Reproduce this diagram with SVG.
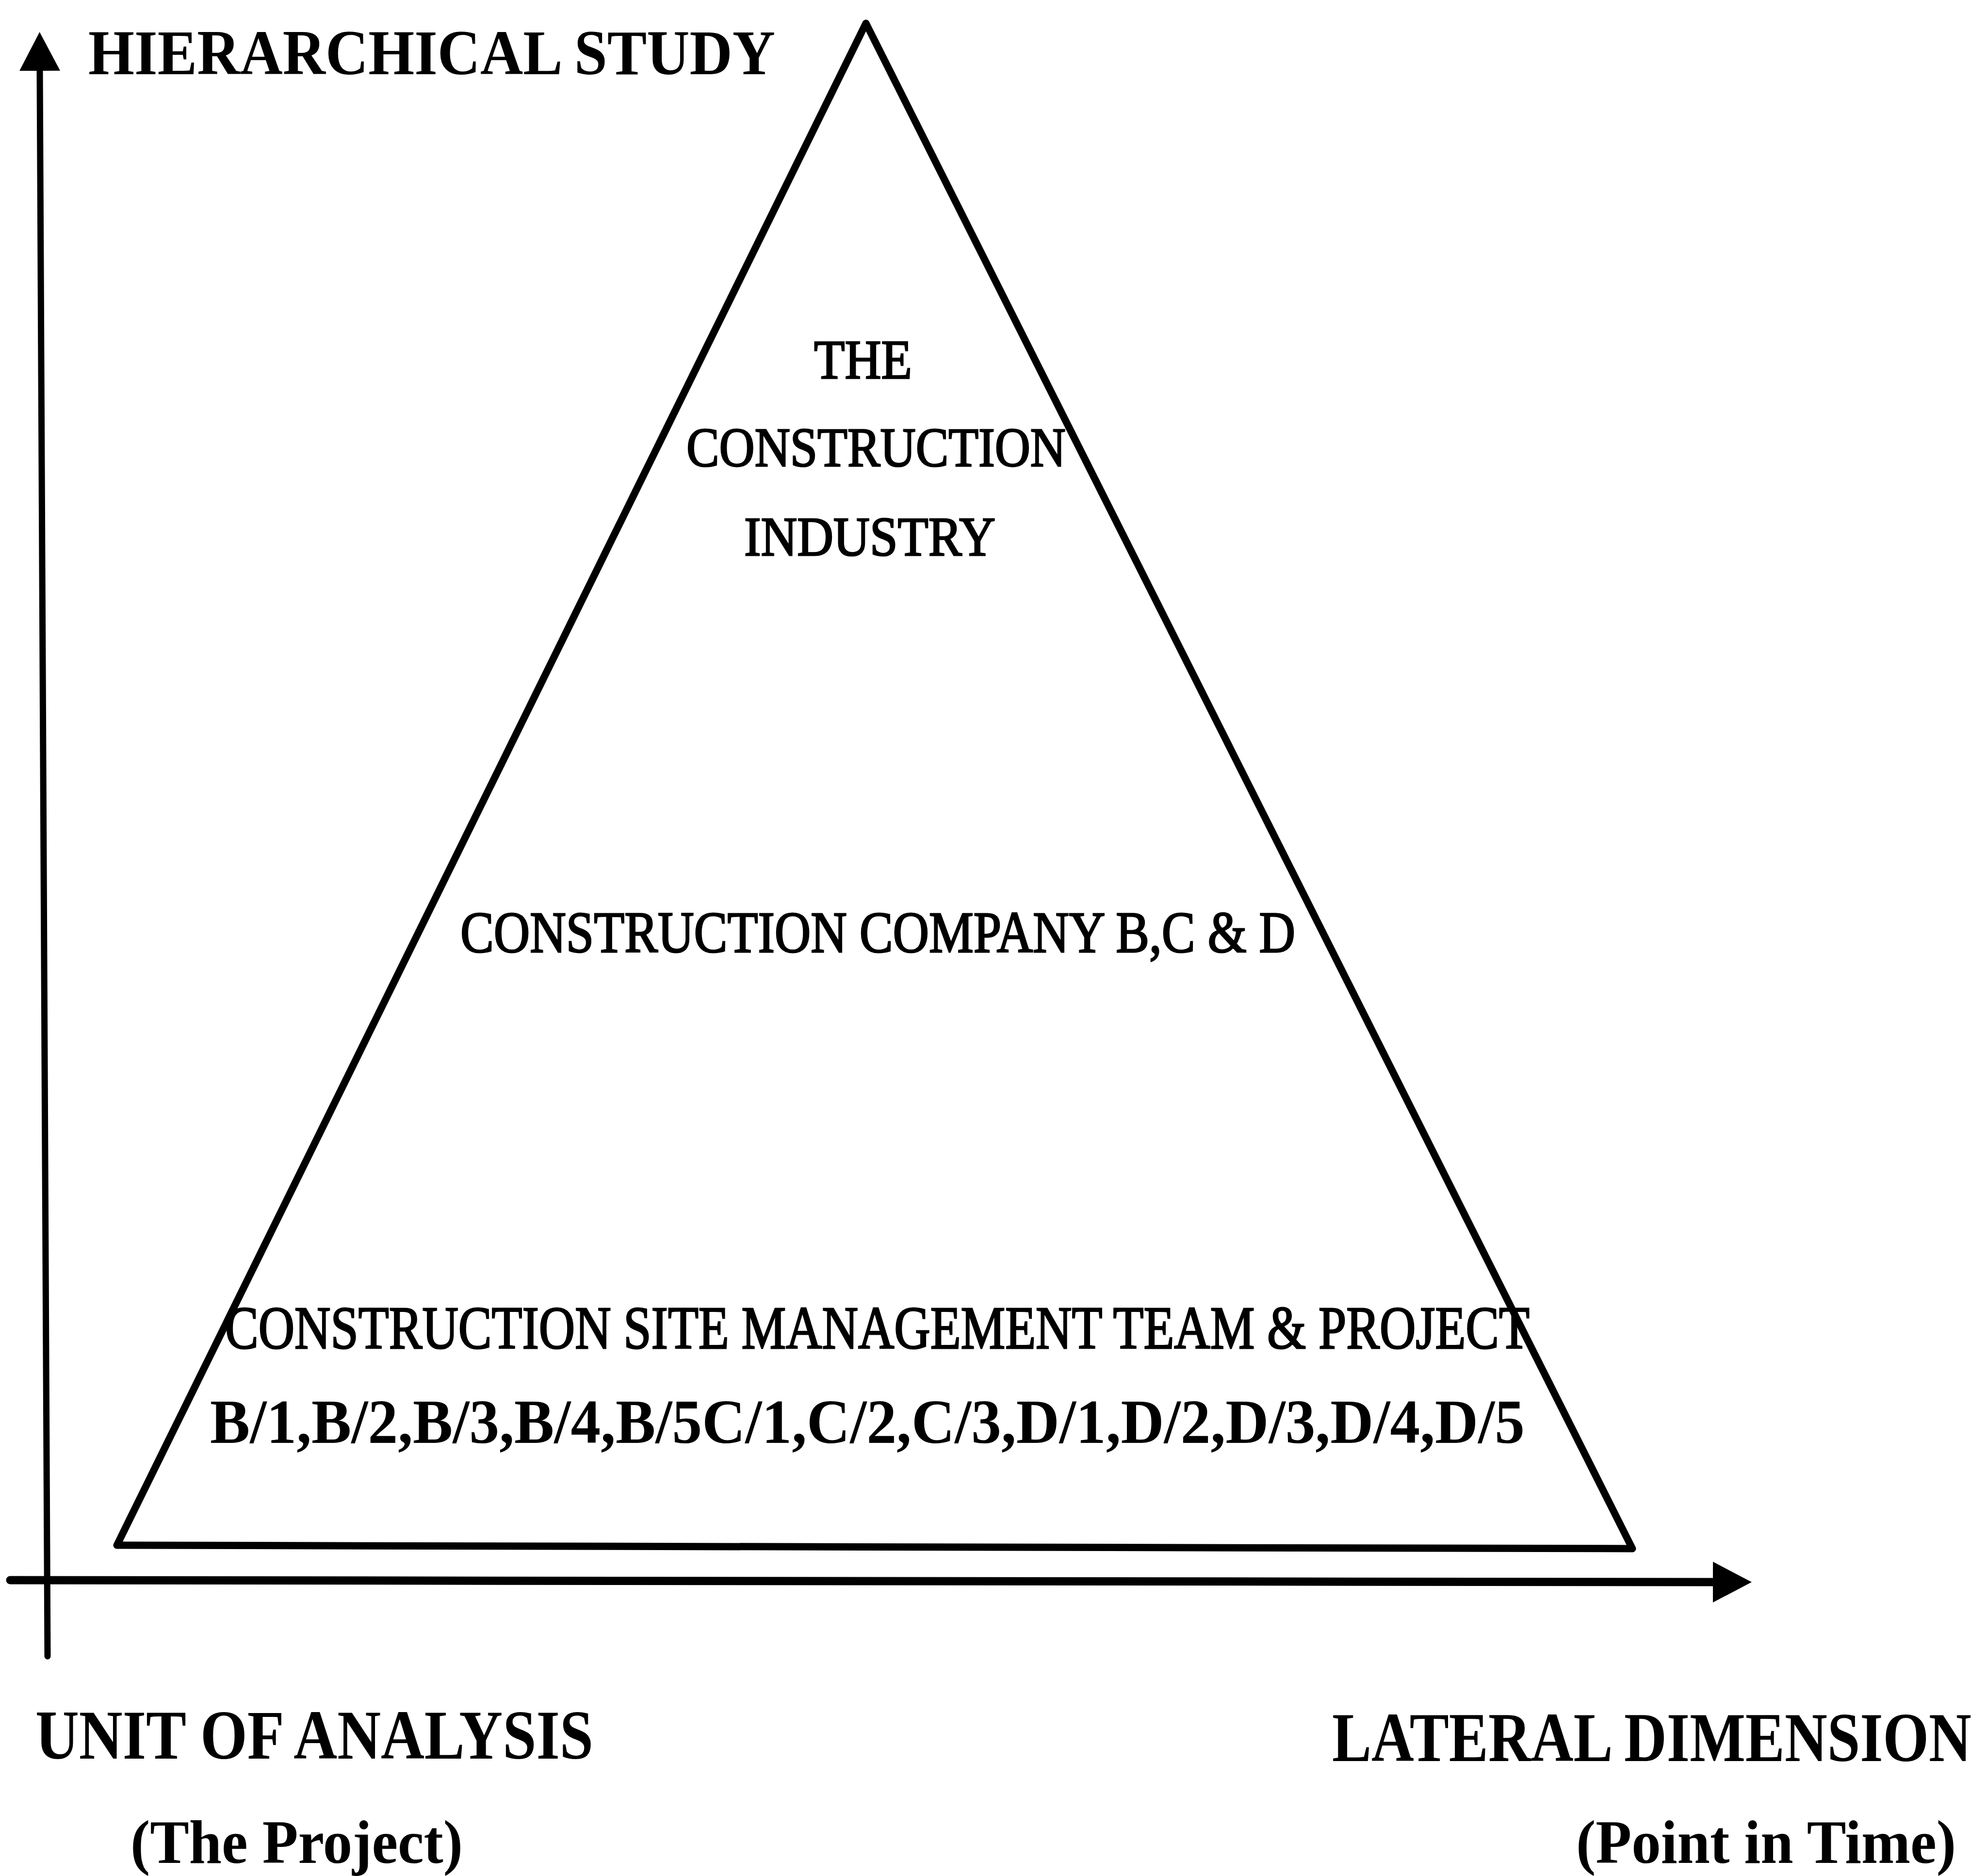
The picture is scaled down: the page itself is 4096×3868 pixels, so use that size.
<svg xmlns="http://www.w3.org/2000/svg" width="4096" height="3868" viewBox="0 0 4096 3868">
  <style>
    .ln { fill: none; stroke: #000; stroke-linecap: round; stroke-linejoin: round; }
    .t { font-family: "Liberation Serif", "Times New Roman", serif; fill: #000; }
    .b { font-weight: bold; }
    .r { font-weight: normal; stroke: #000; stroke-width: 3; }
  </style>
  <defs>
    <marker id="arrow" markerUnits="userSpaceOnUse" markerWidth="90" markerHeight="90" refX="0" refY="42" orient="auto">
      <path d="M0,0 L80,42 L0,84 Z" fill="#000"/>
    </marker>
  </defs>
  <rect width="4096" height="3868" fill="#fff"/>

  <!-- axes -->
  <g id="connectors">
    <path id="axis-vertical" class="ln" stroke-width="13" d="M98,3415 L82,146" marker-end="url(#arrow)"/>
    <path id="axis-horizontal" class="ln" stroke-width="17" d="M21,3258 L3531,3262" marker-end="url(#arrow)"/>
  </g>

  <!-- pyramid -->
  <g id="pyramid">
    <path class="ln" stroke-width="15" d="M1785,48 L3365,3193 L241,3186 Z"/>
  </g>

  <g id="label-hierarchical">
    <text class="t b" x="182" y="153" font-size="131" textLength="1416" lengthAdjust="spacingAndGlyphs">HIERARCHICAL STUDY</text>
  </g>

  <g id="node-industry">
    <text class="t r" x="1678" y="780" font-size="115" textLength="202" lengthAdjust="spacingAndGlyphs">THE</text>
    <text class="t r" x="1415" y="961" font-size="115" textLength="782" lengthAdjust="spacingAndGlyphs">CONSTRUCTION</text>
    <text class="t r" x="1534" y="1145" font-size="115" textLength="518" lengthAdjust="spacingAndGlyphs">INDUSTRY</text>
  </g>

  <g id="node-company">
    <text class="t r" x="949" y="1963" font-size="120" textLength="1721" lengthAdjust="spacingAndGlyphs">CONSTRUCTION COMPANY B,C &amp; D</text>
  </g>

  <g id="node-site">
    <text class="t r" x="464" y="2780" font-size="124" textLength="2689" lengthAdjust="spacingAndGlyphs">CONSTRUCTION SITE MANAGEMENT TEAM &amp; PROJECT</text>
    <text class="t b" x="433" y="2975" font-size="130" textLength="2710" lengthAdjust="spacingAndGlyphs">B/1,B/2,B/3,B/4,B/5C/1,C/2,C/3,D/1,D/2,D/3,D/4,D/5</text>
  </g>

  <g id="label-unit">
    <text class="t b" x="73" y="3626" font-size="144" textLength="1150" lengthAdjust="spacingAndGlyphs">UNIT OF ANALYSIS</text>
    <text class="t b" x="269" y="3841" font-size="127" textLength="685" lengthAdjust="spacingAndGlyphs">(The Project)</text>
  </g>

  <g id="label-lateral">
    <!-- condensed horizontally so the label stays inside the right edge -->
    <text class="t b" transform="translate(2746,3631) scale(0.806,1)" x="0" y="0" font-size="144" textLength="1635" lengthAdjust="spacingAndGlyphs">LATERAL DIMENSION</text>
    <text class="t b" x="3249" y="3841" font-size="127" textLength="783" lengthAdjust="spacingAndGlyphs">(Point in Time)</text>
  </g>
</svg>
